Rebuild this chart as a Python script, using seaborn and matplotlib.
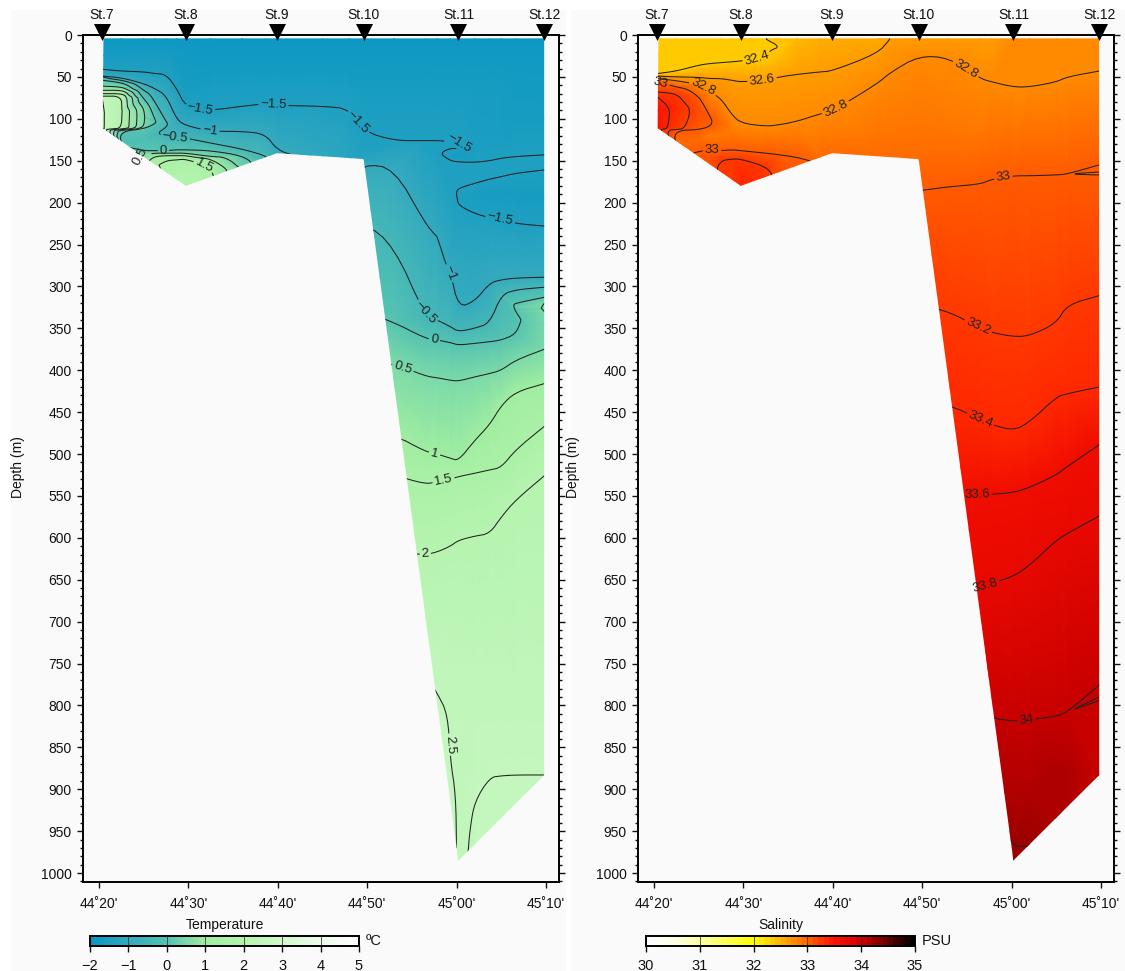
import numpy as np
import seaborn as sns
import matplotlib
matplotlib.use("Agg")
import matplotlib.pyplot as plt
from matplotlib.colors import ListedColormap, Normalize
from matplotlib.patches import Polygon, Rectangle
from matplotlib.path import Path
from matplotlib.tri import Triangulation

# longitude is in minutes past 44 deg
station_names = ["St.7", "St.8", "St.9", "St.10", "St.11", "St.12"]
station_lon = [20.3, 29.7, 39.9, 49.6, 60.2, 69.8]
lon_ticks = [20, 30, 40, 50, 60, 70]
lon_labels = ["44˚20'", "44˚30'", "44˚40'", "44˚50'", "45˚00'", "45˚10'"]
section_lon = [20.5, 69.8, 69.8, 60.2, 49.6, 39.9, 29.7, 20.4]
section_depth = [4, 4, 883, 985, 148, 141, 180, 111]

t_lon = [20.4, 22.5, 25, 26.26, 27.5, 28.7, 29.7, 32.5, 36, 38.6, 39.9, 45, 48, 49.6,
         53, 56.5, 57.8, 59.3, 60.2, 62, 63.7, 65, 66.6, 69.8]
t_depth = [
    [4, 25, 41, 49, 50, 54, 61, 66, 70, 73, 78, 93, 112],
    [4, 25, 43, 51, 54, 57, 62, 66, 70, 73, 90, 111, 112, 113, 114, 115, 130],
    [4, 25, 44, 58, 66, 76, 88, 98, 109, 112, 125, 138, 143, 150],
    [4, 25, 46, 64, 80, 101, 103, 106, 118, 127, 138, 141, 145, 149, 158],
    [4, 25, 47, 72, 103, 107, 114, 123, 134, 138, 141, 144, 150, 167],
    [4, 25, 64, 101, 122, 137, 141, 144, 149, 176],
    [4, 25, 60, 86, 108, 123, 137, 141, 144, 148, 165, 182],
    [4, 30, 90, 115, 129, 138, 145, 148, 158, 171],
    [4, 30, 85, 115, 136, 144, 160],
    [4, 30, 82, 118, 144, 148],
    [4, 30, 84, 137, 143],
    [4, 30, 85, 147],
    [4, 30, 88, 149],
    [4, 30, 60, 115, 135, 148, 154, 223, 330, 392, 477, 525, 618],
    [4, 30, 60, 126, 159, 252, 343, 392, 477, 525, 618],
    [4, 30, 60, 126, 225, 336, 362, 407, 497, 536, 620, 700, 800],
    [4, 30, 60, 126, 141, 230, 340, 364, 409, 500, 533, 617, 750, 785, 850],
    [4, 30, 60, 127, 130, 135, 142, 150, 175, 205, 270, 348, 367, 412, 505, 530, 610, 800, 865, 920],
    [4, 30, 60, 128.5, 132, 136, 145, 151.5, 165, 183, 193, 203, 325, 354, 370, 413, 508, 527, 603, 800, 900, 986],
    [4, 30, 60, 132, 152, 163, 177, 192, 213, 318, 350, 368, 408, 484, 523, 598, 800, 915, 968],
    [4, 30, 60, 132, 150, 160, 172, 190, 218, 296, 344, 366, 404, 465, 519, 595, 800, 886, 950],
    [4, 30, 60, 132, 147, 157, 169, 190, 220, 292, 310, 364, 400, 442, 516, 575, 800, 884, 936],
    [4, 30, 100, 145, 155, 165, 190, 225, 290, 304, 320, 325, 330, 340, 357, 388, 426, 495, 555, 800, 883, 918],
    [4, 30, 100, 143, 152, 161, 195, 228, 289, 301, 313, 320, 326, 330, 345, 375, 416, 467, 526, 800, 883],
]
t_value = [
    [-1.85, -1.7, -1.5, -1, -.5, 0, .5, 1, 1.5, 2, 2.5, 2.55, 2.55],
    [-1.85, -1.7, -1.5, -1, -.5, 0, .5, 1, 1.5, 2, 2.05, 2, 1.5, 1, .5, 0, -.2],
    [-1.85, -1.7, -1.5, -1, -.5, 0, .5, .55, .5, 0, -.2, 0, .5, .7],
    [-1.85, -1.7, -1.5, -1, -.5, 0, .05, 0, -.45, -.2, 0, .5, 1, 1.3, 1.5],
    [-1.85, -1.7, -1.5, -1, -.5, -.4, -.65, -.5, -.1, 0, .5, 1, 1.5, 1.75],
    [-1.85, -1.72, -1.5, -1, -.5, 0, .5, 1, 1.5, 1.9],
    [-1.85, -1.75, -1.6, -1.5, -1, -.5, 0, .5, 1, 1.5, 1.9, 1.9],
    [-1.85, -1.75, -1.5, -1, -.5, 0, .5, 1, 1.5, 1.6],
    [-1.85, -1.75, -1.5, -1, -.5, 0, .47],
    [-1.85, -1.75, -1.5, -1, -.5, -.45],
    [-1.85, -1.75, -1.5, -1, -.93],
    [-1.85, -1.75, -1.5, -1.1],
    [-1.85, -1.75, -1.5, -1.25],
    [-1.85, -1.75, -1.7, -1.5, -1.45, -1.25, -1, -.5, 0, .5, 1, 1.5, 2],
    [-1.85, -1.75, -1.7, -1.5, -1, -.5, 0, .5, 1, 1.5, 2],
    [-1.85, -1.75, -1.7, -1.5, -1, -.5, 0, .5, 1, 1.5, 2, 2.3, 2.6],
    [-1.85, -1.75, -1.7, -1.5, -1.48, -1.05, -.5, 0, .5, 1, 1.5, 2, 2.4, 2.5, 2.7],
    [-1.85, -1.75, -1.7, -1.5, -1.47, -1.5, -1.58, -1.5, -1.42, -1.33, -1.1, -.5, 0, .5, 1, 1.5, 2, 2.45, 2.5, 2.6],
    [-1.85, -1.75, -1.7, -1.5, -1.45, -1.5, -1.65, -1.5, -1.45, -1.5, -1.53, -1.5, -1, -.5, 0, .5, 1, 1.5, 2, 2.4, 2.45, 2.47],
    [-1.85, -1.75, -1.7, -1.55, -1.5, -1.45, -1.5, -1.58, -1.5, -1, -.5, 0, .5, 1, 1.5, 2, 2.4, 2.5, 2.52],
    [-1.85, -1.75, -1.7, -1.55, -1.5, -1.45, -1.5, -1.6, -1.5, -1, -.5, 0, .5, 1, 1.5, 2, 2.4, 2.5, 2.55],
    [-1.85, -1.75, -1.7, -1.55, -1.5, -1.45, -1.5, -1.6, -1.5, -1, -.5, 0, .5, 1, 1.5, 2, 2.4, 2.5, 2.55],
    [-1.85, -1.75, -1.6, -1.5, -1.45, -1.5, -1.6, -1.5, -1, -.5, 0, .1, 0, -.1, 0, .5, 1, 1.5, 2, 2.4, 2.5, 2.55],
    [-1.85, -1.75, -1.6, -1.5, -1.45, -1.5, -1.6, -1.5, -1, -.5, 0, .5, .55, .5, .42, .5, 1, 1.5, 2, 2.4, 2.5],
]

s_lon = [20.4, 22.5, 25, 26.26, 27.5, 28.7, 29.7, 32.5, 34.1, 36, 38.6, 39.9, 45, 46.4, 49.6,
         53, 56.5, 57.8, 60.2, 62, 65, 66.2, 69.8]
s_depth = [
    [4, 25, 46, 49, 52, 56, 68, 74, 90, 112],
    [4, 25, 43, 50, 54.5, 62, 70, 85, 111, 113, 114, 130],
    [4, 20, 36, 50.5, 59, 74, 90, 113, 125, 139, 150],
    [4, 20, 34, 52, 68, 97, 103, 109, 120, 137, 150, 158],
    [4, 20, 33, 52, 76, 105, 120, 138, 150, 167],
    [4, 20, 32, 54, 95, 115, 137, 148, 176],
    [4, 20, 31, 56, 105, 120, 138, 148, 165, 182],
    [5, 15, 27, 54, 109, 141, 157, 171],
    [4, 14, 27, 50, 107, 143, 165],
    [4, 47, 103, 146, 160],
    [4, 44, 94, 148],
    [4, 43, 91, 143],
    [4, 22, 58, 147],
    [5, 45, 148],
    [4, 25, 148, 186, 322, 441, 549, 660],
    [4, 27, 100, 181, 330, 441, 549, 660],
    [4, 52, 110, 178, 350, 459, 549, 660],
    [4, 56, 172, 355, 465, 548, 654, 815, 880],
    [4, 62, 168, 360, 472, 546, 646, 819, 920, 968, 986],
    [4, 62, 168, 359, 462, 540, 633, 817, 910, 968],
    [4, 56, 167, 344, 432, 525, 603, 813, 880, 936],
    [4, 50, 166, 322, 428, 515, 595, 808, 880, 914],
    [4, 43, 155, 160, 163.5, 165, 167, 311, 420, 489, 574, 776, 783, 790, 792, 794, 883],
]
s_value = [
    [32.34, 32.37, 32.4, 32.6, 32.8, 33, 33.2, 33.4, 33.55, 33.5],
    [32.34, 32.37, 32.4, 32.6, 32.8, 33, 33.2, 33.32, 33.3, 33.2, 33, 32.92],
    [32.33, 32.37, 32.4, 32.6, 32.8, 33, 33.12, 33, 32.95, 33, 33.05],
    [32.33, 32.37, 32.4, 32.6, 32.8, 33, 33.02, 33, 32.9, 33, 33.1, 33.15],
    [32.33, 32.38, 32.4, 32.6, 32.8, 32.93, 32.88, 33, 33.2, 33.25],
    [32.33, 32.38, 32.4, 32.6, 32.8, 32.85, 33, 33.2, 33.3],
    [32.34, 32.38, 32.4, 32.6, 32.8, 32.84, 33, 33.2, 33.35, 33.37],
    [32.4, 32.38, 32.4, 32.6, 32.8, 33, 33.2, 33.25],
    [32.43, 32.4, 32.45, 32.6, 32.8, 33, 33.15],
    [32.46, 32.6, 32.8, 33, 33.05],
    [32.5, 32.6, 32.8, 32.98],
    [32.52, 32.6, 32.8, 32.92],
    [32.58, 32.6, 32.8, 32.93],
    [32.6, 32.8, 32.94],
    [32.65, 32.8, 32.94, 33, 33.2, 33.4, 33.6, 33.8],
    [32.68, 32.8, 32.9, 33, 33.2, 33.4, 33.6, 33.8],
    [32.68, 32.8, 32.9, 33, 33.2, 33.4, 33.6, 33.8],
    [32.69, 32.8, 33, 33.2, 33.4, 33.6, 33.8, 34, 34.1],
    [32.7, 32.8, 33, 33.2, 33.4, 33.6, 33.8, 34, 34.12, 34.2, 34.25],
    [32.7, 32.8, 33, 33.2, 33.4, 33.6, 33.8, 34, 34.12, 34.2],
    [32.72, 32.8, 33, 33.2, 33.4, 33.6, 33.8, 34, 34.1, 34.15],
    [32.71, 32.8, 33, 33.2, 33.4, 33.6, 33.8, 34, 34.1, 34.13],
    [32.7, 32.8, 33, 33.02, 33, 32.985, 33, 33.2, 33.4, 33.6, 33.8, 34, 34.03, 34, 33.98, 34, 34.08],
]

t_levels = [-1.5, -1, -.5, 0, .5, 1, 1.5, 2, 2.5]
s_levels = [32.4, 32.6, 32.8, 33, 33.2, 33.4, 33.6, 33.8, 34, 34.2]
t_label_at = [(31.3, 89), (39.5, 84), (49, 104), (60.3, 129), (64.9, 219), (59.5, 283), (32.4, 116),
              (28.5, 124), (55.9, 336), (27.2, 138), (57.5, 364), (54, 397), (24.6, 143),
              (57.4, 505), (58.6, 535), (31.7, 157), (56.5, 620), (58.9, 847)]
s_label_at = [(31.6, 31), (32.1, 55), (25.4, 64), (40.5, 91), (54.6, 45), (26.5, 140), (20.7, 58),
              (59.1, 171), (56.2, 349), (56.6, 457), (56.1, 549), (57.2, 660), (61.7, 818)]

t_colors = ["#0a96c3", "#34aabe", "#55c3b2", "#a0eea0", "#b4f4ae", "#cff9c9", "#ecfcea", "#ffffff"]
s_colors = ["#ffffff", "#ffffe1", "#ffffa0", "#ffff50", "#ffff00", "#ffb400",
            "#ff6400", "#ff1400", "#d70000", "#6e0000", "#000000"]

sns.set_theme(style="ticks", rc={"axes.linewidth": 1.4, "font.size": 10,
                                 "axes.edgecolor": "black", "xtick.color": "#111111",
                                 "ytick.color": "#111111", "text.color": "#111111",
                                 "axes.labelcolor": "#111111"})
plt.rcParams["font.family"] = ["Liberation Sans", "DejaVu Sans"]

W, H = 1125, 971
BG = "#fafafa"


def px_axes(fig, x0, y0, x1, y1):
    return fig.add_axes([x0 / W, 1 - y1 / H, (x1 - x0) / W, (y1 - y0) / H])


def flatten(lon, depth, value):
    x = np.concatenate([[lon[i]] * len(d) for i, d in enumerate(depth)])
    return x, np.concatenate(depth), np.concatenate(value)


def fmt_label(v):
    return f"{v:g}".replace("-", "\u2212")


def round_corners(path, passes=2):
    # corner cutting, the triangle mesh leaves kinks in the contour lines
    lines = path.to_polygons(closed_only=False)
    if not lines:
        return path
    out = []
    for v in lines:
        for _ in range(passes):
            if len(v) < 3:
                break
            q = 0.75 * v[:-1] + 0.25 * v[1:]
            r = 0.25 * v[:-1] + 0.75 * v[1:]
            mid = np.empty((2 * len(q), 2))
            mid[0::2] = q
            mid[1::2] = r
            v = np.vstack([v[:1], mid, v[-1:]])
        out.append(Path(v))
    return Path.make_compound_path(*out)


def draw_section(ax, lon, depth, value, levels, cmap, norm, label_at):
    ax.set_facecolor(BG)
    x, y, z = flatten(lon, depth, value)
    # depth is stretched so the triangles link neighbouring profiles
    tri = Triangulation(x, y, Triangulation(x, y / 30).triangles)
    clip = Polygon(np.column_stack([section_lon, section_depth]), closed=True,
                   fc="none", ec="none", transform=ax.transData)
    ax.add_patch(clip)
    mesh = ax.tripcolor(tri, z, shading="gouraud", cmap=cmap, norm=norm)
    mesh.set_clip_path(clip)
    cs = ax.tricontour(tri, z, levels=levels, colors="#222222", linewidths=0.75, linestyles="solid")
    cs.set_paths([round_corners(p) for p in cs.get_paths()])
    cs.set_clip_path(clip)
    ax.set_xlim(18.21, 71.45)
    ax.set_ylim(1010.7, 0)
    labels = ax.clabel(cs, manual=label_at, fmt=fmt_label, fontsize=9.5, inline=True, inline_spacing=2)
    for t in labels:
        t.set_clip_path(clip)
        t.set_clip_on(True)
    sns.scatterplot(x=station_lon, y=[-4] * len(station_lon), marker="v", s=150, color="black",
                    linewidth=0, clip_on=False, zorder=6, legend=False, ax=ax)
    for name, lon_i in zip(station_names, station_lon):
        ax.annotate(name, (lon_i, 0), xytext=(0, 9.5), textcoords="offset points",
                    ha="center", va="bottom", fontsize=10)
    ax.set_xticks(lon_ticks)
    ax.set_xticklabels(lon_labels)
    ax.set_yticks(np.arange(0, 1001, 50))
    ax.set_yticks(np.arange(0, 1011, 10), minor=True)
    ax.tick_params(axis="y", which="major", left=True, right=True, direction="out", length=4.5, width=1, labelsize=10)
    ax.tick_params(axis="y", which="minor", left=True, right=True, direction="out", length=2.5, width=1)
    ax.tick_params(axis="x", which="major", direction="out", length=4.5, width=1, labelsize=10, pad=6)
    ax.set_ylabel("Depth (m)", fontsize=10)
    ax.yaxis.set_label_coords(-58 / 476, 0.49)
    ax.set_xlabel("")
    return mesh


def draw_colorbar(fig, mesh, box, ticks, title, unit):
    cax = px_axes(fig, *box)
    cb = fig.colorbar(mesh, cax=cax, orientation="horizontal", ticks=ticks)
    cb.outline.set_linewidth(1.4)
    cb.ax.set_xticklabels([fmt_label(t) for t in ticks])
    cb.ax.tick_params(length=4, width=1, labelsize=10.5, pad=5.5)
    cax.vlines(ticks, *cax.get_ylim(), color="#333333", linewidth=0.7, alpha=0.8)
    cax.set_title(title, fontsize=10, pad=5)
    cax.annotate(unit, (1, 0.5), xycoords="axes fraction", xytext=(5, 0), textcoords="offset points",
                 ha="left", va="center", fontsize=10.5)


fig = plt.figure(figsize=(W / 100, H / 100), dpi=100, facecolor="white")
fig.add_artist(Rectangle((11 / W, 0), 555 / W, 1 - 10 / H, transform=fig.transFigure, fc=BG, ec="none", zorder=-5))
fig.add_artist(Rectangle((571 / W, 0), 554 / W, 1 - 10 / H, transform=fig.transFigure, fc=BG, ec="none", zorder=-5))

t_cmap = ListedColormap(sns.blend_palette(t_colors, 70))
s_cmap = ListedColormap(sns.blend_palette(s_colors, 50))

ax_t = px_axes(fig, 83, 35, 559, 882)
ax_s = px_axes(fig, 638, 35, 1114, 882)
mesh_t = draw_section(ax_t, t_lon, t_depth, t_value, t_levels, t_cmap, Normalize(-2, 5), t_label_at)
mesh_s = draw_section(ax_s, s_lon, s_depth, s_value, s_levels, s_cmap, Normalize(30, 35), s_label_at)

draw_colorbar(fig, mesh_t, (90, 936, 359, 946), [-2, -1, 0, 1, 2, 3, 4, 5], "Temperature", "ºC")
draw_colorbar(fig, mesh_s, (646, 936, 915, 946), [30, 31, 32, 33, 34, 35], "Salinity", "PSU")

fig.savefig("out.png", dpi=100, facecolor=fig.get_facecolor())
